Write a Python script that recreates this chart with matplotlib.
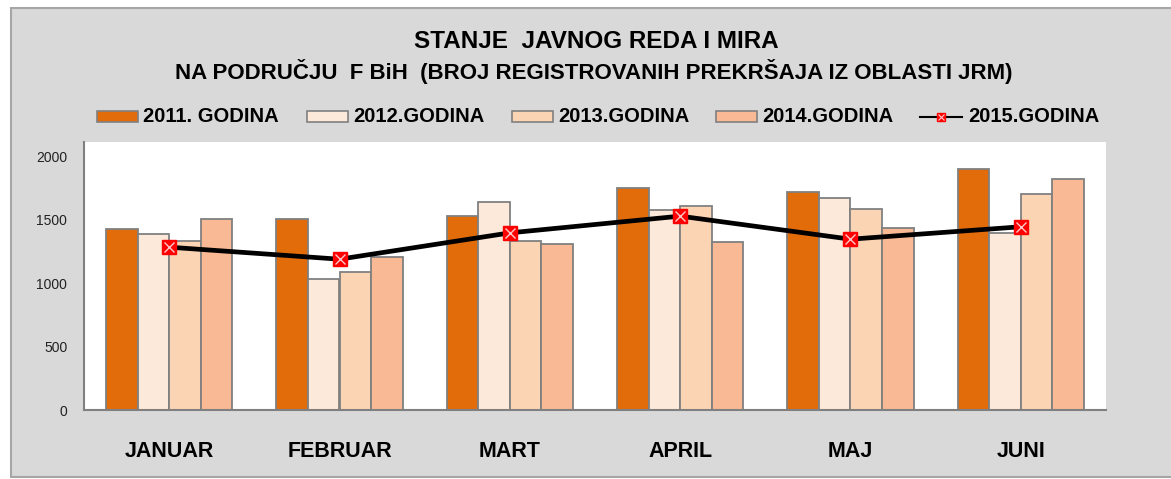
import numpy as np
import matplotlib.pyplot as plt
from matplotlib.patches import Rectangle
from matplotlib.lines import Line2D

months = ["JANUAR", "FEBRUAR", "MART", "APRIL", "MAJ", "JUNI"]
y2011 = [1430, 1505, 1530, 1755, 1720, 1900]
y2012 = [1390, 1035, 1645, 1575, 1677, 1400]
y2013 = [1337, 1090, 1335, 1612, 1585, 1704]
y2014 = [1506, 1209, 1310, 1325, 1440, 1822]
y2015 = [1285, 1190, 1398, 1530, 1348, 1446]
labels = ["2011. GODINA", "2012.GODINA", "2013.GODINA", "2014.GODINA", "2015.GODINA"]
colors = ["#E36C0A", "#FDE9D9", "#FBD4B4", "#F9B994"]

plt.rcParams['font.family'] = ['Liberation Sans', 'DejaVu Sans']

fig = plt.figure(figsize=(11.71, 4.79), dpi=100)
fig.patch.set_facecolor("white")
# gray chart background with border
fig.patches.append(Rectangle((11/1171, 2/479), 1 - 11/1171 + 0.01, 1 - 10/479,
                             transform=fig.transFigure, facecolor="#D9D9D9",
                             edgecolor="#A6A6A6", linewidth=1.5, zorder=-5))

ax = fig.add_axes([84/1171, 69/479, 1022/1171, 268/479])
ax.set_facecolor("white")

x = np.arange(len(months))
w = 0.185
series = [y2011, y2012, y2013, y2014]
for i, (vals, col) in enumerate(zip(series, colors)):
    ax.bar(x + (i - 1.5) * w, vals, w, color=col, edgecolor="#808080", linewidth=1.3, zorder=2)

ax.plot(x, y2015, color="black", linewidth=3.4, zorder=3)
ax.plot(x, y2015, linestyle="none", marker="s", markersize=10, color="#FF0000",
        markeredgecolor="#FF0000", zorder=4)
ax.plot(x, y2015, linestyle="none", marker="x", markersize=7, markeredgewidth=1,
        color="#FFC8C8", zorder=5)

ax.set_xlim(-0.5, len(months) - 0.5)
ax.set_ylim(0, 2115)
ax.set_yticks([0, 500, 1000, 1500, 2000])
ax.set_xticks(x)
ax.set_xticklabels(months, fontsize=15.5, fontweight="bold")
ax.tick_params(axis="x", length=0, pad=22)
ax.tick_params(axis="y", length=0, pad=12, labelsize=10)
for lab in ax.get_yticklabels():
    lab.set_color("#222222")
for s in ["top", "right"]:
    ax.spines[s].set_visible(False)
ax.spines["left"].set_color("#808080")
ax.spines["bottom"].set_color("#808080")
ax.spines["left"].set_linewidth(1.5)
ax.spines["bottom"].set_linewidth(1.5)

fig.text(596/1171, 1 - 42/479, "STANJE  JAVNOG REDA I MIRA", ha="center", va="center",
         fontsize=17.5, fontweight="bold")
fig.text(594/1171, 1 - 72/479, "NA PODRUČJU  F BiH  (BROJ REGISTROVANIH PREKRŠAJA IZ OBLASTI JRM)",
         ha="center", va="center", fontsize=16, fontweight="bold")

# legend drawn by hand
ly = 1 - 117/479
starts = [97, 307, 512, 716]
for sx, col, lab in zip(starts, colors, labels[:4]):
    fig.patches.append(Rectangle((sx/1171, ly - 5/479), 41/1171, 11/479,
                                 transform=fig.transFigure, facecolor=col,
                                 edgecolor="#808080", linewidth=1.2))
    fig.text((sx + 46)/1171, ly, lab, ha="left", va="center", fontsize=14.5, fontweight="bold")
fig.add_artist(Line2D([920/1171, 962/1171], [ly, ly], color="black", linewidth=1.5,
                      transform=fig.transFigure))
fig.add_artist(Line2D([941/1171], [ly], marker="s", markersize=6, color="#FF0000",
                      transform=fig.transFigure))
fig.add_artist(Line2D([941/1171], [ly], marker="x", markersize=4, markeredgewidth=0.8,
                      color="#FFC8C8", transform=fig.transFigure))
fig.text(968/1171, ly, labels[4], ha="left", va="center", fontsize=14.5, fontweight="bold")

fig.savefig("out.png", dpi=100)
